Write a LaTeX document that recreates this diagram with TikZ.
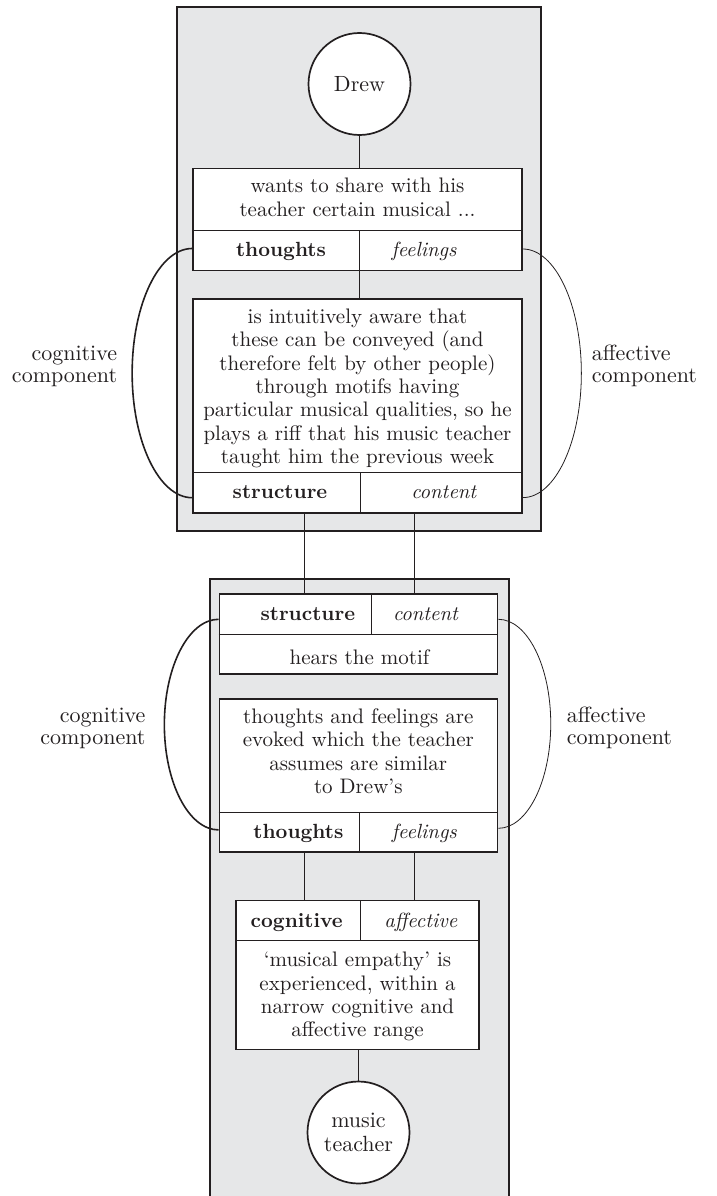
\documentclass[tikz,border=0pt]{standalone}
\usepackage{fontspec}
\setmainfont{lmroman10-regular.otf}[
  BoldFont=lmroman10-bold.otf,
  ItalicFont=lmroman10-italic.otf]
\definecolor{ink}{HTML}{231F20}
\definecolor{panelgray}{HTML}{E6E7E8}
\begin{document}
\begin{tikzpicture}[x=1pt,y=-1pt,
  panel/.style={draw=ink, fill=panelgray, line width=1.6pt, rectangle, inner sep=0pt},
  frame/.style={draw=ink, fill=white, line width=1.7pt, rectangle, inner sep=0pt},
  person/.style={draw=ink, fill=white, line width=1.7pt, circle, inner sep=0pt,
    minimum size=102pt, font=\fontsize{22}{23.4}\selectfont, text=ink, align=center},
  rule/.style={draw=ink, line width=0.8pt},
  strong/.style={draw=ink, line width=1.6pt},
  weak/.style={draw=ink, line width=0.8pt},
  body/.style={font=\fontsize{21}{23.4}\selectfont, text=ink, inner sep=0pt, anchor=base},
  block/.style={body, text width=#1, align=center},
  headb/.style={body, font=\fontsize{20.5}{23.4}\selectfont\bfseries},
  headi/.style={body, font=\fontsize{20.5}{23.4}\selectfont\itshape},
  sidel/.style={body, text width=140pt, align=right, anchor=base east,
    font=\fontsize{22}{22}\selectfont},
  sider/.style={body, text width=140pt, align=left, anchor=base west,
    font=\fontsize{22}{22}\selectfont},
]
\useasboundingbox (0,0) rectangle (717,1196);

% the two grey panels (the lower one runs off the page)
\node[panel, minimum width=364pt, minimum height=524pt] (upper) at (359,269) {};
\node[panel, minimum width=299pt, minimum height=636pt] (lower) at (359.5,897) {};

% positions of the vertical dividers and of the two links between the panels
\coordinate (d1) at (359.5,230);
\coordinate (d2) at (360,472.7);
\coordinate (d3) at (371.7,634.3);
\coordinate (d4) at (359.2,812.3);
\coordinate (d5) at (360,940.7);
\coordinate (sA) at (304.5,0);
\coordinate (sB) at (414.5,0);

% persons
\node[person] (drew) at (359.5,84) {Drew};
\node[person] (teacher) at (358.5,1132.5) {music\\teacher};

% boxes
\node[frame, minimum width=329pt, minimum height=102pt] (b1) at (357.5,219.5) {};
\node[frame, minimum width=329pt, minimum height=214pt] (b2) at (357.5,406) {};
\node[frame, minimum width=278pt, minimum height=80pt]  (b3) at (358.5,634) {};
\node[frame, minimum width=278pt, minimum height=153pt] (b4) at (358.5,775.5) {};
\node[frame, minimum width=243pt, minimum height=149pt] (b5) at (357.5,975) {};

% links between persons and boxes
\draw[weak] (drew.south) -- (drew.south |- b1.north);
\draw[weak] (d1 |- b1.south) -- (d1 |- b2.north);
\draw[strong] (sA |- b2.south) -- (sA |- b3.north);
\draw[weak]   (sB |- b2.south) -- (sB |- b3.north);
\draw[strong] (sA |- b4.south) -- (sA |- b5.north);
\draw[weak]   (sB |- b4.south) -- (sB |- b5.north);
\draw[weak] (teacher.north |- b5.south) -- (teacher.north);

% row and column rules inside the boxes
\draw[rule] (b1.west |- d1) -- (b1.east |- d1);
\draw[rule] (d1) -- (d1 |- b1.south);
\draw[rule] (b2.west |- d2) -- (b2.east |- d2);
\draw[rule] (d2) -- (d2 |- b2.south);
\draw[rule] (b3.west |- d3) -- (b3.east |- d3);
\draw[rule] (d3) -- (d3 |- b3.north);
\draw[rule] (b4.west |- d4) -- (b4.east |- d4);
\draw[rule] (d4) -- (d4 |- b4.south);
\draw[rule] (b5.west |- d5) -- (b5.east |- d5);
\draw[rule] (d5) -- (d5 |- b5.north);

% component arcs
\coordinate (u1) at (0,248.5);
\coordinate (u2) at (0,249);
\coordinate (v1) at (0,619.3);
\draw[strong] (b1.west |- u1) arc[start angle=90, end angle=270, x radius=60pt, y radius=124.6pt];
\draw[weak]   (b1.east |- u2) arc[start angle=90, end angle=-90, x radius=58.5pt, y radius=124.3pt];
\draw[strong] (b3.west |- v1) arc[start angle=90, end angle=270, x radius=54.3pt, y radius=105.3pt];
\draw[weak]   (b3.east |- v1) arc[start angle=90, end angle=-90, x radius=52.4pt, y radius=104.5pt];

% texts of the upper panel
\node[block=318pt] (t1) at (357.5,192.7) {wants to share with his\\teacher certain musical ...};
\node[headb] (t1a) at (281,256) {thoughts};
\node[headi] (t1b) at (424,256) {feelings};
\node[block=324pt] (t2) at (357.5,323.3) {is intuitively aware that\\these can be conveyed (and\\therefore felt by other people)\\through motifs having\\particular musical qualities, so he\\plays a riff that his music teacher\\taught him the previous week};
\node[headb] (t2a) at (280,498.3) {structure};
\node[headi] (t2b) at (443.8,498.3) {content};

% texts of the lower panel
\node[headb] (t3a) at (307.8,620) {structure};
\node[headi] (t3b) at (425.5,620) {content};
\node[block=270pt] (t3) at (359.5,664.3) {hears the motif};
\node[block=274pt] (t4) at (358.3,723.3) {thoughts and feelings are\\evoked which the teacher\\assumes are similar\\to Drew’s};
\node[headb] (t4a) at (298.4,838.3) {thoughts};
\node[headi] (t4b) at (424.3,838.3) {feelings};
\node[headb] (t5a) at (296.7,927.3) {cognitive};
\node[headi] (t5b) at (420.8,927.3) {affective};
\node[block=240pt] (t5) at (357.5,966.7) {‘musical empathy’ is\\experienced, within a\\narrow cognitive and\\affective range};

% side labels
\node[sidel] (l1) at (117.3,360.7) {cognitive\\component};
\node[sider] (r1) at (591.7,360.7) {affective\\component};
\node[sidel] (l2) at (145.7,722.7) {cognitive\\component};
\node[sider] (r2) at (566.7,722.7) {affective\\component};
\end{tikzpicture}
\end{document}
